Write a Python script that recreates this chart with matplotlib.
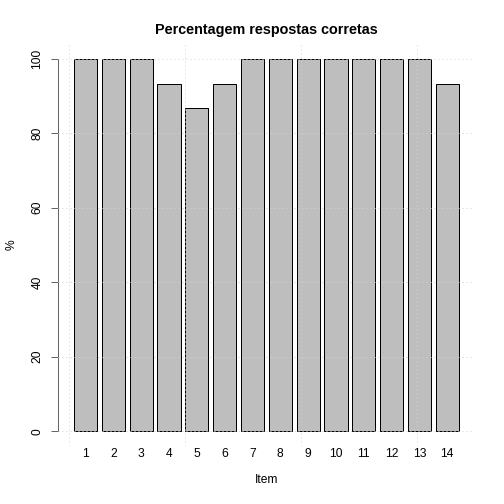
import matplotlib
matplotlib.use("Agg")
import matplotlib.pyplot as plt
import numpy as np

plt.rcParams['font.family'] = ['Liberation Sans', 'DejaVu Sans']

# percentage of correct answers per item
items = [str(i) for i in range(1, 15)]
pct = [100, 100, 100, 93.33, 86.67, 93.33, 100, 100, 100, 100, 100, 100, 100, 93.33]
yticks = [0, 20, 40, 60, 80, 100]

fig = plt.figure(figsize=(7, 7), dpi=72)
ax = fig.add_axes([0.116, 0.115, 0.825, 0.798])

# R-style barplot positions (width 1, space 0.2)
centers = 0.7 + 1.2 * np.arange(len(pct))
ax.bar(centers, pct, width=1.0, color="#BEBEBE", edgecolor="black", linewidth=1, zorder=1)

ax.set_xlim(-0.464, 17.464)
ax.set_ylim(-4, 104)

# grid drawn on top like grid() after barplot
for y in yticks:
    ax.axhline(y, color="#D3D3D3", linestyle=(0, (1, 3)), linewidth=1, zorder=3)
for x in [0, 5, 10, 15]:
    ax.axvline(x, color="#D3D3D3", linestyle=(0, (1, 3)), linewidth=1, zorder=3)

for s in ["top", "right", "bottom"]:
    ax.spines[s].set_visible(False)
ax.spines["left"].set_bounds(0, 100)
ax.spines["left"].set_color("#404040")

ax.set_yticks(yticks)
ax.set_yticklabels([str(v) for v in yticks], rotation=90, va="center", fontsize=12)
ax.tick_params(axis="y", length=7, pad=8, color="#404040")
ax.set_xticks(centers)
ax.set_xticklabels(items, fontsize=12)
ax.tick_params(axis="x", length=0, pad=2)

ax.set_xlabel("Item", fontsize=12, labelpad=14)
ax.set_ylabel("%", fontsize=12, labelpad=14)
fig.text(0.529, 1 - 30 / 504, "Percentagem respostas corretas", ha="center", va="center",
         fontsize=14.4, fontweight="bold")

fig.savefig("out.png", dpi=72)
